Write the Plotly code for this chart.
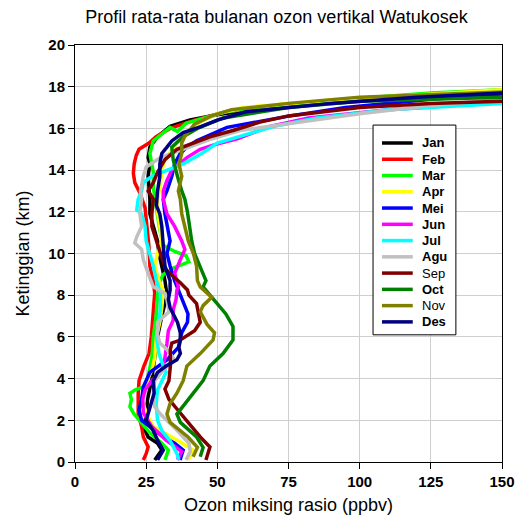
import plotly.graph_objects as go

months = ["Jan", "Feb", "Mar", "Apr", "Mei", "Jun", "Jul", "Agu", "Sep", "Oct", "Nov", "Des"]
bold_names = {"Jan", "Feb", "Mar", "Apr", "Mei", "Jun", "Jul", "Agu", "Oct", "Des"}
colors = ["#000000", "#FF0000", "#00FF00", "#FFFF00", "#0000FF", "#FF00FF",
          "#00FFFF", "#C0C0C0", "#800000", "#008000", "#808000", "#000080"]

# Altitude (km) and ozone mixing ratio (ppbv) for each monthly profile
jan_alt = [0.1, 0.57, 0.9, 1.2, 1.7, 2.2, 3, 4, 5, 6, 7, 8, 8.7, 9.4, 10, 10.6, 11.3, 11.9, 12.6, 13, 13.7, 14.3, 14.6, 15.1, 15.6, 16.1, 16.4, 16.65, 16.85, 17.1, 17.4, 17.6, 17.8]
jan_oz = [28, 30.5, 29, 25.7, 24, 25, 25.5, 27, 28, 29, 30.5, 32.3, 31.6, 30.5, 29.5, 29, 27.5, 26.3, 26.3, 26, 25.7, 26.3, 25.7, 26.3, 29, 33.4, 40.4, 50, 59, 72, 100, 125, 150]

feb_alt = [0.1, 0.4, 0.72, 1.2, 1.7, 2.3, 3.3, 3.9, 4.6, 5.2, 6, 6.6, 7.4, 8.1, 8.7, 9.4, 10.3, 11.1, 12.2, 12.9, 13.4, 13.85, 14.3, 14.7, 15.0, 15.3, 15.6, 16.0, 16.4, 16.8, 17.1, 17.4, 17.6, 17.75]
feb_oz = [24, 25, 25.7, 24, 23.4, 22.2, 22.2, 22.5, 24.2, 26, 26.8, 27.2, 27.5, 28, 27.5, 26.3, 26, 25.5, 24.6, 22.8, 21, 20.5, 20.8, 21.5, 22.5, 26, 28.5, 33.4, 42, 53, 70, 100, 125, 150]

mar_alt = [0.1, 0.57, 0.9, 1.4, 1.87, 2.35, 2.65, 3, 3.3, 3.45, 3.6, 4, 5, 6, 7, 8, 8.7, 9.0, 9.3, 9.6, 9.9, 10.1, 10.4, 11, 11.8, 12.6, 13.2, 13.9, 14.8, 15.4, 15.8, 16.05, 15.85, 16.25, 16.8, 17.1, 17.45, 17.7, 17.85]
mar_oz = [31.6, 32.8, 30.5, 26.3, 23.4, 20.5, 19.3, 19.8, 19.3, 21, 24, 25.5, 27, 27.5, 28.5, 29, 30, 31, 34.5, 40, 39, 35, 31, 30, 29, 28, 27.5, 27.5, 26.3, 27.5, 31, 33.4, 36, 39, 53, 70, 100, 125, 150]

apr_alt = [0.1, 0.57, 1.05, 1.4, 1.7, 2.3, 3, 3.45, 3.9, 4.4, 5, 6, 6.7, 7.4, 8.25, 8.7, 9.4, 10, 10.6, 11.3, 12, 12.6, 13.3, 14, 14.5, 15.3, 15.9, 16.4, 16.7, 17.0, 17.36, 17.6, 17.85]
apr_oz = [39.7, 41.5, 35.8, 31, 27.5, 25.2, 23.4, 24.2, 25.2, 27, 28, 28.6, 29.8, 30.5, 31, 29.5, 28, 29, 30.5, 29.8, 29, 29, 30, 30.5, 31.6, 35.8, 40, 45, 50, 59, 90.7, 120, 150]

mei_alt = [0.1, 0.57, 0.9, 1.2, 1.7, 2, 2.5, 3, 3.6, 4.3, 4.9, 5.5, 6.2, 6.7, 7.1, 7.5, 8.1, 8.7, 9.4, 10, 10.6, 11.3, 11.9, 12.6, 13, 13.7, 14.3, 14.8, 15.1, 15.4, 16.05, 16.6, 17.0, 17.4, 17.65]
mei_oz = [36.9, 38, 35, 31, 26.3, 23.4, 22.5, 23.4, 24, 26.3, 32.3, 36.3, 37.5, 39.5, 39.7, 38.5, 36.5, 35, 33.4, 32.3, 33.4, 32.3, 31.6, 31, 32.3, 34, 35, 37, 39.3, 42.7, 53.4, 75.5, 95, 125, 150]

jun_alt = [0.1, 0.5, 1.05, 1.7, 2.35, 3, 3.45, 3.9, 4.4, 5.0, 5.7, 6.3, 6.8, 7.3, 7.8, 8.25, 8.4, 9.05, 9.7, 10.2, 10.6, 11.3, 11.9, 12.6, 13.0, 13.5, 14.0, 14.6, 15.0, 15.2, 15.5, 16.1, 16.5, 16.9, 17.25]
jun_oz = [36, 37.5, 32, 27, 24, 23.8, 24.6, 27, 30.5, 31.6, 32.3, 32.8, 34.5, 34.5, 35.5, 35.8, 36.3, 35, 37, 38.6, 37.5, 35, 32.3, 31, 31, 32.3, 34, 39.3, 44, 48.5, 57, 68.5, 82, 110, 150]

jul_alt = [0.1, 0.4, 1.0, 1.5, 2, 2.8, 3.45, 3.9, 4.3, 4.6, 5.2, 6, 6.7, 7.3, 8.1, 8.7, 9.4, 10, 10.6, 11.3, 11.9, 12.1, 12.6, 13.0, 13.4, 13.7, 14.0, 14.3, 14.8, 15.3, 15.7, 16.1, 16.5, 16.9, 17.2]
jul_oz = [36.5, 35.8, 33.5, 30.5, 29, 28.5, 29, 30.5, 32, 31, 29.5, 28.6, 29.5, 30, 30, 28.6, 27.5, 26.3, 25, 24.6, 23.4, 21.7, 22.2, 23.4, 24, 27, 32.8, 38, 44.5, 50, 60, 70, 85, 110, 150]

agu_alt = [0.1, 0.5, 0.9, 1.5, 2.3, 2.65, 3.3, 3.9, 4.4, 4.9, 5.4, 5.7, 6.1, 6.7, 7.2, 7.8, 8.1, 8.4, 9.05, 9.7, 10.2, 10.5, 10.8, 11.3, 11.9, 12.6, 13, 13.7, 14.15, 14.6, 15.0, 15.45, 15.9, 16.25, 16.7, 17.1, 17.4]
agu_oz = [39, 40.5, 40, 36, 30, 28, 27.5, 28, 31, 35, 32.3, 29.8, 29, 29, 33, 32.3, 31.6, 27.5, 25.7, 24, 23.4, 21, 21.7, 23.4, 22.8, 23.4, 23, 24, 25, 30, 38, 47, 58, 75.5, 100, 125, 150]

sep_alt = [0.1, 0.72, 1.2, 1.87, 2.35, 3, 3.5, 3.9, 4.6, 5.4, 5.7, 5.85, 6.3, 6.7, 7.1, 7.6, 8.0, 8.25, 8.6, 9.2, 9.8, 10.6, 11.3, 11.9, 12.6, 13.0, 13.4, 13.9, 14.5, 15.0, 15.3, 15.6, 15.9, 16.3, 16.6, 17.0, 17.2, 17.3]
sep_oz = [46, 47.4, 44, 39.7, 37, 33, 31.6, 33, 33.5, 33.5, 34, 37, 42, 44, 43.5, 42.7, 40, 39.5, 37, 32, 30.5, 28.7, 27, 27, 27.5, 25.7, 27.5, 29, 31.6, 35.8, 41.5, 47.4, 55.5, 65, 75, 100, 125, 150]

oct_alt = [0.25, 0.7, 1.2, 1.9, 2.3, 2.8, 3.3, 3.9, 4.6, 5.2, 5.85, 6.5, 7.1, 7.8, 8.4, 8.7, 9.3, 10, 10.6, 11.3, 12, 12.6, 13.0, 13.7, 14.5, 15.1, 15.6, 16.0, 16.5, 17.0, 17.3, 17.5]
oct_oz = [44, 45, 42.7, 37, 35.8, 38.6, 41.4, 45, 47.4, 52, 55.5, 55.5, 53, 48.5, 45, 46, 44, 42, 41, 40.4, 39.5, 38.6, 37.5, 36, 34.5, 34, 38, 43, 52, 75, 100, 150]

nov_alt = [0.25, 0.7, 1.2, 1.9, 2.3, 2.8, 3.3, 3.9, 4.6, 5.2, 5.85, 6.2, 6.6, 7.2, 7.5, 7.9, 8.4, 8.7, 9.4, 10, 10.6, 11.3, 11.9, 12.6, 13.0, 13.7, 14.3, 14.8, 15.3, 15.6, 16.2, 16.6, 16.9, 17.2, 17.5, 17.75]
nov_oz = [41.5, 43, 39.7, 33.4, 32.3, 33.4, 35.8, 38, 39.3, 44, 48.5, 49, 46.4, 44, 45, 48, 44, 43, 42.7, 41.6, 39.8, 38.6, 37.5, 37, 36.3, 37.5, 36.5, 37.5, 37.5, 38.5, 42, 48, 55, 75, 100, 150]

des_alt = [0.1, 0.57, 1.05, 1.5, 2, 2.65, 3.3, 3.9, 4.3, 4.6, 4.9, 5.2, 5.5, 5.85, 6.2, 6.7, 7.1, 7.4, 7.8, 8.25, 8.7, 9.4, 10, 10.6, 11.3, 11.9, 12.3, 13, 13.7, 14.3, 14.8, 15.1, 15.4, 15.8, 16.07, 16.4, 16.8, 17.2, 17.5, 17.7]
des_oz = [29, 31, 29, 27.5, 25, 26.5, 27.8, 27.5, 29, 32, 35.8, 37, 36.5, 37, 37, 36, 34.5, 33.4, 32.8, 33.4, 33.4, 31.6, 31.2, 31, 30.5, 29.8, 28.6, 29, 29.8, 29.8, 30.5, 32.3, 34, 38, 44, 50, 60, 90, 120, 150]

altitudes = [jan_alt, feb_alt, mar_alt, apr_alt, mei_alt, jun_alt, jul_alt, agu_alt, sep_alt, oct_alt, nov_alt, des_alt]
ozones = [jan_oz, feb_oz, mar_oz, apr_oz, mei_oz, jun_oz, jul_oz, agu_oz, sep_oz, oct_oz, nov_oz, des_oz]

x_ticks = [0, 25, 50, 75, 100, 125, 150]
y_ticks = [0, 2, 4, 6, 8, 10, 12, 14, 16, 18, 20]

FONT = "Liberation Sans, Arial, sans-serif"

fig = go.Figure()
for m, c, alt, oz in zip(months, colors, altitudes, ozones):
    fig.add_trace(go.Scatter(x=oz, y=alt, mode="lines", name=m, showlegend=False,
                             line=dict(color=c, width=3.5)))

# Legend drawn as a boxed key (paper coordinates)
LEG_X0, LEG_X1 = 0.698, 0.892
LEG_Y0, LEG_Y1 = 0.305, 0.808
ROW_TOP, ROW_STEP = 0.765, 0.039
shapes = [dict(type="rect", xref="paper", yref="paper", x0=LEG_X0, x1=LEG_X1,
               y0=LEG_Y0, y1=LEG_Y1, line=dict(color="black", width=1),
               fillcolor="white", layer="above")]
annotations = []
for i, (m, c) in enumerate(zip(months, colors)):
    yy = ROW_TOP - i * ROW_STEP
    shapes.append(dict(type="line", xref="paper", yref="paper", x0=0.719, x1=0.791,
                       y0=yy, y1=yy, line=dict(color=c, width=3.5), layer="above"))
    label = f"<b>{m}</b>" if m in bold_names else m
    annotations.append(dict(text=label, xref="paper", yref="paper", x=0.808, y=yy,
                            xanchor="left", yanchor="middle", showarrow=False,
                            font=dict(family=FONT, size=13, color="black")))

axis_common = dict(showline=True, linecolor="black", linewidth=1, mirror=True,
                   ticks="outside", ticklen=6, tickcolor="black",
                   showgrid=True, gridcolor="#cfcfcf", gridwidth=1.2,
                   zeroline=False, automargin=False,
                   tickfont=dict(family=FONT, size=15, color="black", weight="bold"))

fig.update_layout(
    width=522, height=525,
    margin=dict(l=75, r=20, t=45, b=63, autoexpand=False),
    paper_bgcolor="white", plot_bgcolor="white",
    title=dict(text="Profil rata-rata bulanan ozon vertikal Watukosek",
               x=0.5297, xref="container", xanchor="center",
               y=0.9686, yref="container", yanchor="middle",
               font=dict(family=FONT, size=18, color="black")),
    xaxis=dict(range=[0, 150], tickvals=x_ticks,
               title=dict(text="Ozon miksing rasio (ppbv)", standoff=9,
                          font=dict(family=FONT, size=18, color="black")),
               **axis_common),
    yaxis=dict(range=[0, 20], tickvals=y_ticks,
               title=dict(text="Ketinggian (km)", standoff=14,
                          font=dict(family=FONT, size=18, color="black")),
               **axis_common),
    shapes=shapes,
    annotations=annotations,
    showlegend=False,
)

# Remove the page's default body margin so the figure sits at the window origin.
fig.write_html("out.html",
               config={"displayModeBar": False},
               post_script="document.body.style.margin='0';document.body.style.overflow='hidden';")
